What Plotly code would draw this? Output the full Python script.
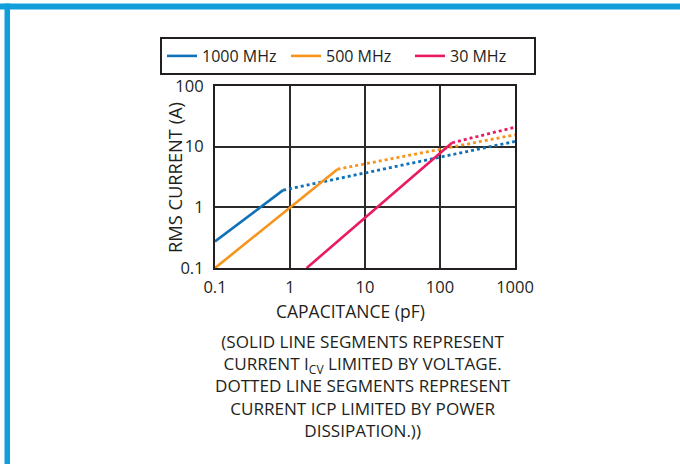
import plotly.graph_objects as go

# Data (capacitance pF, RMS current A)
series_names = ["1000 MHz", "500 MHz", "30 MHz"]
colors = ["#0f72b9", "#f7941d", "#ea1a60"]

blue_solid_x = [0.1, 0.81]
blue_solid_y = [0.275, 1.92]
blue_dot_x = [0.81, 1000]
blue_dot_y = [1.92, 12.2]

orange_solid_x = [0.1, 4.3]
orange_solid_y = [0.1, 4.25]
orange_dot_x = [4.3, 1000]
orange_dot_y = [4.25, 15.7]

pink_solid_x = [1.67, 145]
pink_solid_y = [0.1, 11.6]
pink_dot_x = [145, 1000]
pink_dot_y = [11.6, 20.9]

x_ticks = [0.1, 1, 10, 100, 1000]
x_tick_labels = ["0.1", "1", "10", "100", "1000"]
y_ticks = [0.1, 1, 10, 100]
y_tick_labels = ["0.1", "1", "10", "100"]

FONT = "Open Sans"
TXT = "#231f20"
W, H = 680, 464
L, R, T, B = 215, 515, 86, 268

fig = go.Figure()
solids = [(blue_solid_x, blue_solid_y), (orange_solid_x, orange_solid_y), (pink_solid_x, pink_solid_y)]
dots = [(blue_dot_x, blue_dot_y), (orange_dot_x, orange_dot_y), (pink_dot_x, pink_dot_y)]
for name, c, (sx, sy), (dx, dy) in zip(series_names, colors, solids, dots):
    fig.add_trace(go.Scatter(x=sx, y=sy, mode="lines", name=name,
                             line=dict(color=c, width=2.6), showlegend=True))
    fig.add_trace(go.Scatter(x=dx, y=dy, mode="lines", name=name,
                             line=dict(color=c, width=2.8, dash="dot"), showlegend=False))

def px2x(p):
    return (p - L) / (R - L)

def py2y(p):
    return (B - p) / (B - T)

# blue frame
frame = "#109fdb"
fig.add_shape(type="rect", xref="paper", yref="paper",
              x0=px2x(0), x1=px2x(W), y0=py2y(9.5), y1=py2y(3.5),
              fillcolor=frame, line=dict(width=0), layer="above")
fig.add_shape(type="rect", xref="paper", yref="paper",
              x0=px2x(4.5), x1=px2x(10), y0=py2y(H), y1=py2y(3.5),
              fillcolor=frame, line=dict(width=0), layer="above")

fig.add_annotation(xref="paper", yref="paper", x=px2x(350), y=py2y(311),
                   text="CAPACITANCE (pF)", showarrow=False,
                   font=dict(family=FONT, size=17.5, color=TXT),
                   xanchor="center", yanchor="middle")
fig.add_annotation(xref="paper", yref="paper", x=px2x(174), y=py2y(178),
                   text="RMS CURRENT (A)", showarrow=False, textangle=-90,
                   font=dict(family=FONT, size=18.3, color=TXT),
                   xanchor="center", yanchor="middle")
fig.add_annotation(xref="paper", yref="paper", x=px2x(363), y=py2y(385.5),
                   text=("(SOLID LINE SEGMENTS REPRESENT<br>"
                         "CURRENT I<sub>CV</sub> LIMITED BY VOLTAGE.<br>"
                         "DOTTED LINE SEGMENTS REPRESENT<br>"
                         "CURRENT ICP LIMITED BY POWER<br>"
                         "DISSIPATION.))"),
                   showarrow=False, align="center",
                   font=dict(family=FONT, size=17.1, color=TXT),
                   xanchor="center", yanchor="middle")

axis_common = dict(showgrid=True, gridcolor="#2b2b2b", gridwidth=1.6,
                   showline=True, linecolor=TXT, linewidth=2.2, mirror=True,
                   ticks="", zeroline=False,
                   tickfont=dict(family=FONT, size=16.5, color=TXT))

fig.update_xaxes(type="log", range=[-1, 3], tickvals=x_ticks, ticktext=x_tick_labels,
                 ticklabelstandoff=3, **axis_common)
fig.update_yaxes(type="log", range=[-1, 2], tickvals=y_ticks, ticktext=y_tick_labels,
                 ticklabelstandoff=6, **axis_common)

fig.update_layout(
    width=W, height=H,
    margin=dict(l=L, r=W - R, t=T, b=H - B, pad=0),
    paper_bgcolor="white", plot_bgcolor="white",
    font=dict(family=FONT, size=16.5, color=TXT),
    legend=dict(orientation="h", xref="paper", yref="paper",
                x=px2x(160), y=py2y(37), xanchor="left", yanchor="top",
                bordercolor=TXT, borderwidth=2, bgcolor="white",
                font=dict(family=FONT, size=16, color=TXT),
                entrywidth=79, itemwidth=30, tracegroupgap=0),
    showlegend=True,
)

fig.write_html("out.html", config={"displayModeBar": False},
               post_script="document.body.style.margin='0';document.body.style.overflow='hidden';")
